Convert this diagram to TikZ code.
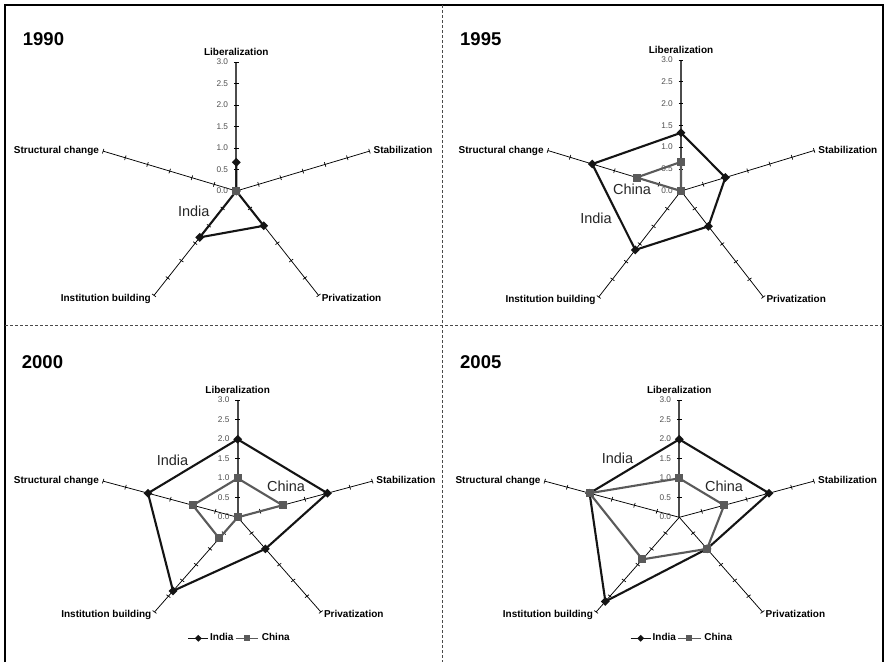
\documentclass[tikz,border=0pt]{standalone}
\usepackage{fontspec}
\setmainfont{Liberation Sans}
\usetikzlibrary{shapes.geometric}

\definecolor{indiacol}{HTML}{141414}
\definecolor{chinacol}{HTML}{5A5A5A}
\definecolor{ticktext}{HTML}{505050}
\definecolor{dividercol}{HTML}{4A4A4A}

\tikzset{
  frame/.style={line width=1.7pt, black},
  divider/.style={line width=0.9pt, dividercol, dash pattern=on 3pt off 2pt},
  axisline/.style={line width=0.75pt, black},
  mainaxis/.style={line width=1.7pt, black!70},
  tickmark/.style={line width=0.7pt, black},
  ticklabel/.style={font=\fontsize{8.3}{9}\selectfont, text=ticktext, anchor=mid east, inner sep=0pt},
  axislabel/.style={font=\fontsize{10}{12}\selectfont\bfseries, inner sep=0pt},
  yearlabel/.style={font=\fontsize{18.5}{20}\selectfont\bfseries, anchor=base west, inner sep=0pt},
  serieslabel/.style={font=\fontsize{14.5}{16}\selectfont, text=black!85, inner sep=0pt},
  indialine/.style={line width=2.1pt, indiacol, line join=round},
  chinaline/.style={line width=2.1pt, chinacol, line join=round},
  indiamark/.style={diamond, fill=indiacol, inner sep=0pt, minimum size=9pt},
  chinamark/.style={rectangle, fill=chinacol, inner sep=0pt, minimum size=8pt},
  legendindia/.style={line width=1.4pt, indiacol},
  legendchina/.style={line width=1.4pt, chinacol},
  legendindiamark/.style={diamond, fill=indiacol, inner sep=0pt, minimum size=7pt},
  legendchinamark/.style={rectangle, fill=chinacol, inner sep=0pt, minimum size=6pt},
  legendtext/.style={font=\fontsize{10}{12}\selectfont\bfseries, anchor=mid west, inner sep=0pt},
}

% Five axes of a radar chart (scale 0 to 3), with ticks, values and names
\newcommand{\radaraxes}[1]{%
  \coordinate (#1-o) at (0,0);
  \foreach \k/\a in {1/90,2/18,3/-54,4/-126,5/162}{
    \coordinate (#1-e\k) at (\a:3);
  }
  \draw[mainaxis] (#1-o) -- (#1-e1);
  \foreach \k in {2,...,5} \draw[axisline] (#1-o) -- (#1-e\k);
  \foreach \a in {90,18,-54,-126,162}
    \foreach \s in {0.5,1,1.5,2,2.5,3}
      \draw[tickmark] (\a:\s) ++({\a+90}:2.4pt) -- ++({\a-90}:4.8pt);
  \foreach \s in {0.0,0.5,1.0,1.5,2.0,2.5,3.0}
    \node[ticklabel, xshift=-8pt] at (90:\s) {\s};
  \node[axislabel, anchor=base, yshift=6.5pt] (#1-l1) at (#1-e1) {Liberalization};
  \node[axislabel, anchor=mid west, xshift=4pt] (#1-l2) at (#1-e2) {Stabilization};
  \node[axislabel, anchor=mid west, xshift=3pt, yshift=-3pt] (#1-l3) at (#1-e3) {Privatization};
  \node[axislabel, anchor=mid east, xshift=-3pt, yshift=-3pt] (#1-l4) at (#1-e4) {Institution building};
  \node[axislabel, anchor=mid east, xshift=-4pt] (#1-l5) at (#1-e5) {Structural change};
}

% One data series: closed polygon through the five values, with markers
\newcommand{\radarseries}[3]{%
  \foreach \v [count=\k] in {#3}{
    \pgfmathsetmacro{\a}{162-72*\k}
    \coordinate (#1\k) at (\a:\v);
  }
  \draw[#2line] (#11) -- (#12) -- (#13) -- (#14) -- (#15) -- cycle;
  \foreach \k in {1,...,5} \node[#2mark] (#1m\k) at (#1\k) {};
}

\begin{document}
\begin{tikzpicture}[x=1pt, y=-1pt]
\useasboundingbox (0,0) rectangle (885,662);
\fill[white] (0,0) rectangle (885,662);

% outer frame and quadrant dividers
\coordinate (fr-bl) at (5,662);
\coordinate (fr-tl) at (5,5.3);
\coordinate (fr-tr) at (883.3,5.3);
\coordinate (fr-br) at (883.3,662);
\draw[frame] (fr-bl) -- (fr-tl) -- (fr-tr) -- (fr-br);
\coordinate (dv-t) at (442.7,5.3);
\coordinate (dv-b) at (442.7,662);
\coordinate (dh-l) at (5,325.7);
\coordinate (dh-r) at (883.3,325.7);
\draw[divider] (dv-t) -- (dv-b);
\draw[divider] (dh-l) -- (dh-r);

% 1990
\node[yearlabel] (t1990) at (22.7,45) {1990};
\begin{scope}[shift={(236.3,191)}, x=46.667pt, y=43pt]
  \radaraxes{p90}
  \radarseries{p90-in}{india}{0.667,0,1,1.333,0}
  \radarseries{p90-cn}{china}{0,0,0,0,0}
\end{scope}
\node[serieslabel] (p90-tin) at (193.8,211) {India};

% 1995
\node[yearlabel] (t1995) at (460,45) {1995};
\begin{scope}[shift={(681,191)}, x=46.667pt, y=43.667pt]
  \radaraxes{p95}
  \radarseries{p95-in}{india}{1.333,1,1,1.667,2}
  \radarseries{p95-cn}{china}{0.667,0,0,0,1}
\end{scope}
\node[serieslabel] (p95-tcn) at (632,189.5) {China};
\node[serieslabel] (p95-tin) at (596,218) {India};

% 2000
\node[yearlabel] (t2000) at (21.7,368.3) {2000};
\begin{scope}[shift={(237.7,517.3)}, x=47.167pt, y=39pt]
  \radaraxes{p00}
  \radarseries{p00-in}{india}{2,2,1,2.333,2}
  \radarseries{p00-cn}{china}{1,1,0,0.667,1}
\end{scope}
\node[serieslabel] (p00-tin) at (172.5,460.3) {India};
\node[serieslabel] (p00-tcn) at (286,486.7) {China};

% 2005
\node[yearlabel] (t2005) at (460,368.3) {2005};
\begin{scope}[shift={(679.3,517.3)}, x=47.167pt, y=39pt]
  \radaraxes{p05}
  \radarseries{p05-in}{india}{2,2,1,2.667,2}
  \radarseries{p05-cn}{china}{1,1,1,1.333,2}
\end{scope}
\node[serieslabel] (p05-tin) at (617.5,458.3) {India};
\node[serieslabel] (p05-tcn) at (724,486.7) {China};

% legends of the lower panels
\foreach \p/\x in {lg00/0,lg05/442.4}{
  \begin{scope}[xshift=\x pt]
    \coordinate (\p-ia) at (188.3,638.3);
    \coordinate (\p-ib) at (208.3,638.3);
    \draw[legendindia] (\p-ia) -- (\p-ib);
    \node[legendindiamark] (\p-im) at (198.3,638.3) {};
    \node[legendtext] (\p-it) at (210,638.3) {India};
    \coordinate (\p-ca) at (235.5,638.3);
    \coordinate (\p-cb) at (258.3,638.3);
    \draw[legendchina] (\p-ca) -- (\p-cb);
    \node[legendchinamark] (\p-cm) at (246.7,638.3) {};
    \node[legendtext] (\p-ct) at (261.7,638.3) {China};
  \end{scope}
}
\end{tikzpicture}
\end{document}
